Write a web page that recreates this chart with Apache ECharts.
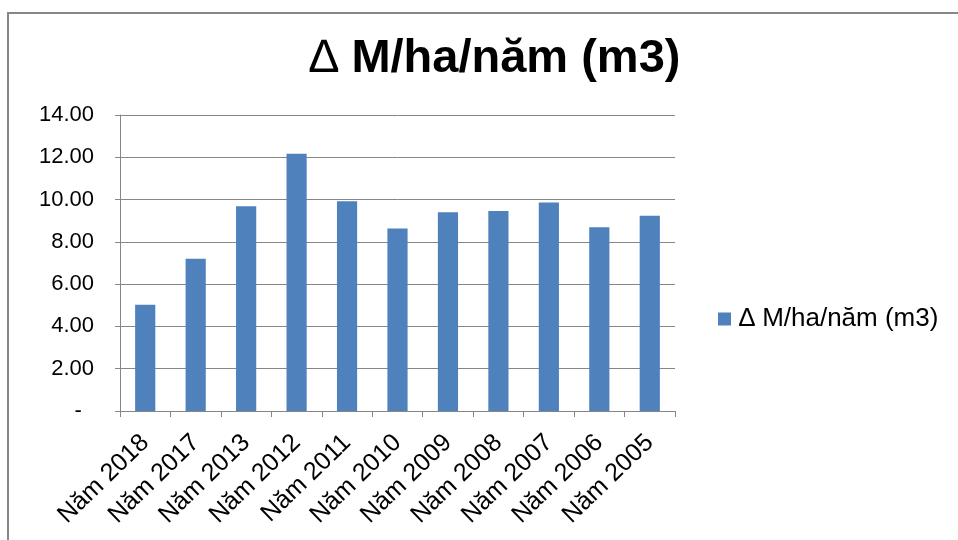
<!DOCTYPE html>
<html><head><meta charset="utf-8">
<script src="https://cdn.jsdelivr.net/npm/echarts@6/dist/echarts.min.js"></script>
<style>html,body{margin:0;padding:0;background:#fff}#c{width:958px;height:540px}</style>
</head><body><div id="c"></div>
<script>
const categories = ["Năm 2018","Năm 2017","Năm 2013","Năm 2012","Năm 2011","Năm 2010","Năm 2009","Năm 2008","Năm 2007","Năm 2006","Năm 2005"];
const values = [5.02, 7.20, 9.69, 12.17, 9.92, 8.63, 9.40, 9.46, 9.86, 8.69, 9.24];
const seriesName = "∆ M/ha/năm (m3)";
const titleDelta = "∆";
const titleRest = " M/ha/năm (m3)";

const FONT = 'Liberation Sans, Arial, sans-serif';
const chart = echarts.init(document.getElementById('c'), null, {renderer:'canvas'});
chart.setOption({
  animation:false,
  backgroundColor:'#fff',
  title:{text:'{d|' + titleDelta + '}{b|' + titleRest + '}',left:490,top:31,textAlign:'center',
    textStyle:{fontFamily:FONT,fontWeight:'bold',fontSize:47,color:'#000',
      rich:{d:{fontFamily:FONT,fontWeight:'normal',fontSize:47,color:'#000'},
            b:{fontFamily:FONT,fontWeight:'bold',fontSize:47,color:'#000'}}}},
  legend:{left:713,top:301,itemWidth:13,itemHeight:13,itemGap:8,
    textStyle:{fontFamily:FONT,fontSize:26,color:'#000',padding:[0,0,0,3]},
    data:[{name:seriesName,icon:'rect'}]},
  grid:{left:120,right:283,top:115,bottom:129,containLabel:false},
  xAxis:{type:'category',data:categories,
    axisLine:{lineStyle:{color:'#868686',width:1}},
    axisTick:{show:true,length:6,lineStyle:{color:'#868686'}},
    axisLabel:{rotate:44,interval:0,margin:28,fontFamily:FONT,fontSize:25,color:'#000'}},
  yAxis:{type:'value',min:0,max:14,interval:2,
    axisLine:{show:true,lineStyle:{color:'#868686'}},
    axisTick:{show:true,length:5,inside:false,lineStyle:{color:'#868686'}},
    splitLine:{lineStyle:{color:'#868686',width:1}},
    axisLabel:{margin:26,fontFamily:FONT,fontSize:22,color:'#000',
      formatter:v=> v===0 ? '-  ' : v.toFixed(2)}},
  series:[{name:seriesName,type:'bar',data:values,barWidth:'40%',
    itemStyle:{color:'#4F81BD'}}],
  graphic:[{type:'rect',shape:{x:8,y:13,width:1200,height:800},
    style:{fill:'none',stroke:'#878787',lineWidth:2},silent:true}]
});
</script></body></html>
